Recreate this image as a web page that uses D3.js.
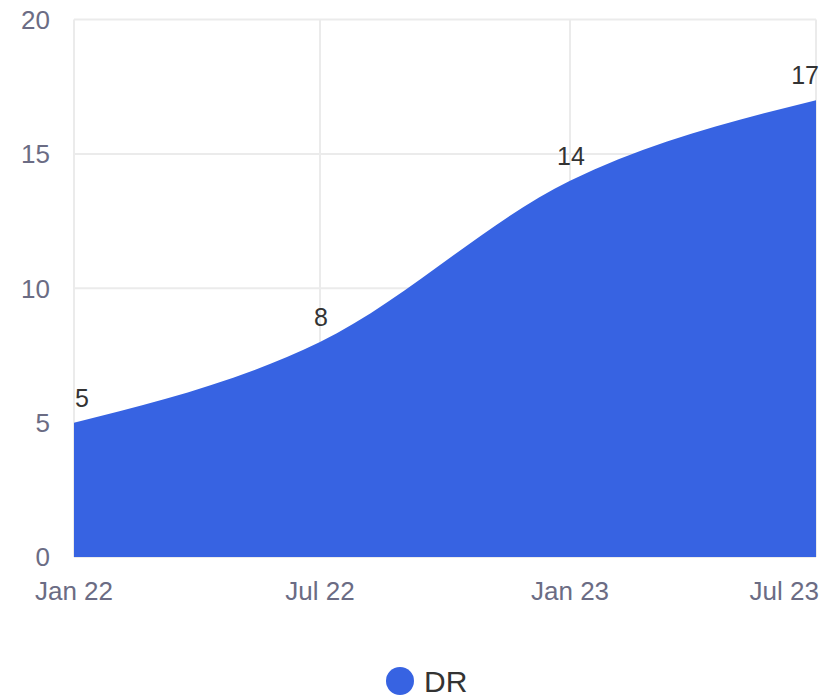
<!DOCTYPE html>
<html>
<head>
<meta charset="utf-8">
<script src="https://cdn.jsdelivr.net/npm/d3@7"></script>
<style>
  html, body { margin: 0; padding: 0; background: #fff; }
  svg { display: block; font-family: "Liberation Sans", Arial, Helvetica, sans-serif; }
</style>
</head>
<body>
<svg id="chart" width="833" height="697"></svg>
<script>
// Series data
const dates = ["2022-01-01", "2022-07-01", "2023-01-01", "2023-07-01"];
const tickLabels = ["Jan 22", "Jul 22", "Jan 23", "Jul 23"];
const values = [5, 8, 14, 17];
const yTicks = [0, 5, 10, 15, 20];
const seriesName = "DR";

const fillColor = "#3763e2";
const gridColor = "#ebebeb";
const axisText = "#6b6c84";
const labelText = "#333333";

const svg = d3.select("#chart");
const margin = { left: 74, right: 17, top: 19.5, bottom: 140 };
const W = 833, H = 697;

const parse = d3.timeParse("%Y-%m-%d");
const xDates = dates.map(parse);

const x = d3.scaleTime()
  .domain(d3.extent(xDates))
  .range([margin.left, W - margin.right]);
const y = d3.scaleLinear()
  .domain([0, 20])
  .range([557, margin.top]);

const data = xDates.map((d, i) => ({ date: d, value: values[i], label: tickLabels[i] }));

// Grid lines
const grid = svg.append("g");
grid.selectAll("line.h").data(yTicks).join("line")
  .attr("x1", x.range()[0]).attr("x2", x.range()[1])
  .attr("y1", d => y(d)).attr("y2", d => y(d))
  .attr("stroke", gridColor).attr("stroke-width", 2);
grid.selectAll("line.v").data(xDates).join("line")
  .attr("x1", d => x(d)).attr("x2", d => x(d))
  .attr("y1", y(20)).attr("y2", y(0))
  .attr("stroke", gridColor).attr("stroke-width", 2);

// Filled area
const area = d3.area()
  .x(d => x(d.date))
  .y0(y(0))
  .y1(d => y(d.value))
  .curve(d3.curveMonotoneX);
svg.append("path")
  .datum(data)
  .attr("d", area)
  .attr("fill", fillColor);

// Y axis labels
svg.append("g").selectAll("text").data(yTicks).join("text")
  .attr("x", 50)
  .attr("y", d => y(d))
  .attr("dy", "0.36em")
  .attr("text-anchor", "end")
  .attr("font-size", 26)
  .attr("fill", axisText)
  .text(d => d);

// X axis labels
const n = data.length;
svg.append("g").selectAll("text").data(data).join("text")
  .attr("x", (d, i) => i === n - 1 ? x(d.date) + 3 : x(d.date))
  .attr("y", 600)
  .attr("text-anchor", (d, i) => i === n - 1 ? "end" : "middle")
  .attr("font-size", 26)
  .attr("fill", axisText)
  .text(d => d.label);

// Value labels
svg.append("g").selectAll("text").data(data).join("text")
  .attr("x", (d, i) => i === 0 ? x(d.date) + 1 : (i === n - 1 ? x(d.date) + 3 : x(d.date) + 1))
  .attr("y", d => y(d.value) - 16)
  .attr("text-anchor", (d, i) => i === 0 ? "start" : (i === n - 1 ? "end" : "middle"))
  .attr("font-size", 25)
  .attr("fill", labelText)
  .text(d => d.value);

// Legend
const legend = svg.append("g");
legend.append("circle")
  .attr("cx", 400).attr("cy", 681).attr("r", 14)
  .attr("fill", fillColor);
legend.append("text")
  .attr("x", 424).attr("y", 692)
  .attr("font-size", 30)
  .attr("fill", labelText)
  .text(seriesName);
</script>
</body>
</html>
